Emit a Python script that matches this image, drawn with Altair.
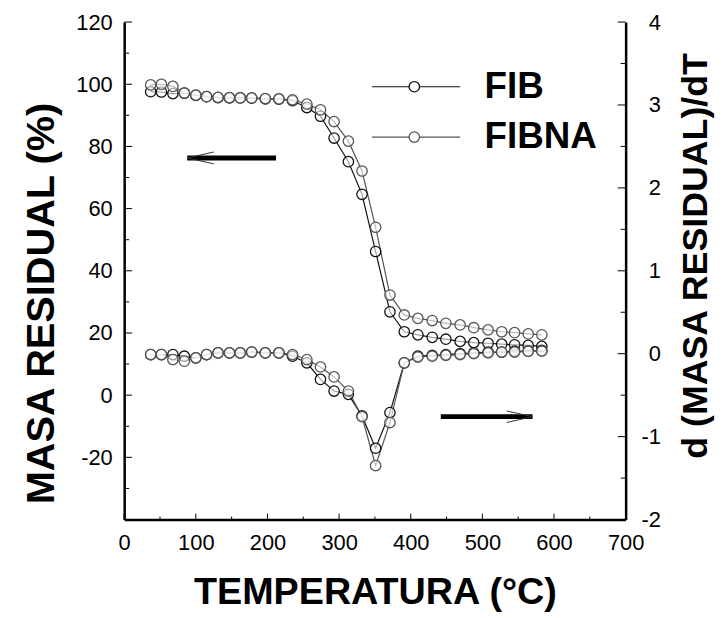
import altair as alt
import pandas as pd

# ---------------- data ----------------
temps = [37, 52, 68, 84, 100, 115, 131, 147, 162, 178, 197, 216, 235, 255, 274, 293,
         313, 332, 351, 371, 391, 410, 430, 449, 469, 488, 508, 527, 545, 564, 583]

tg_fib = [97.6, 97.5, 97.0, 97.1, 96.4, 96.0, 95.7, 95.6, 95.6, 95.5, 95.3, 95.2, 94.7,
          92.5, 89.7, 82.7, 75.1, 64.6, 46.2, 26.8, 20.4, 19.4, 18.6, 18.0, 17.3, 16.9,
          16.7, 16.4, 16.2, 16.0, 15.7]
tg_fibna = [99.8, 100.0, 99.3, 97.2, 96.5, 96.0, 95.8, 95.7, 95.6, 95.6, 95.4, 95.3, 95.0,
            93.6, 91.8, 88.0, 81.7, 72.1, 54.0, 32.2, 25.8, 24.7, 24.0, 23.1, 22.6, 21.7,
            21.0, 20.4, 20.1, 19.7, 19.4]

dtg_fib = [-0.01, -0.01, -0.01, -0.03, -0.05, -0.01, 0.01, 0.01, 0.01, 0.02, 0.01, 0.01,
           -0.03, -0.11, -0.31, -0.45, -0.49, -0.75, -1.14, -0.71, -0.11, -0.03, -0.02,
           -0.01, 0.00, 0.01, 0.02, 0.02, 0.03, 0.03, 0.04]
dtg_fibna = [-0.01, -0.01, -0.07, -0.09, -0.05, -0.01, 0.01, 0.01, 0.01, 0.02, 0.01, 0.01,
             -0.01, -0.07, -0.16, -0.28, -0.45, -0.76, -1.35, -0.83, -0.11, -0.04, -0.03,
             -0.02, -0.01, 0.00, 0.01, 0.02, 0.02, 0.03, 0.03]

series_names = ["FIB", "FIBNA"]
series_colors = ["#111111", "#555555"]

x_ticks = [0, 100, 200, 300, 400, 500, 600, 700]
x_minor = [50, 150, 250, 350, 450, 550, 650]
left_ticks = [-20, 0, 20, 40, 60, 80, 100, 120]
left_minor = [-30, -10, 10, 30, 50, 70, 90, 110]
right_ticks = [-2, -1, 0, 1, 2, 3, 4]
right_minor = [-1.5, -0.5, 0.5, 1.5, 2.5, 3.5]

# annotations (legend & arrows), in data units of the left axis
leg_line_x = [346, 469]
leg_marker_x = 405
leg_text_x = 503
leg_y = [99.2, 83.0]

arrow_left = {"x1": 88, "x2": 212, "y": 76.3, "hx": 125, "hy": [78.2, 74.4]}
arrow_right = {"x1": 442, "x2": 570, "y": -6.9, "hx": 534, "hy": [-5.1, -8.8]}

# ---------------- tables ----------------
tg = pd.DataFrame({
    "temp": temps * 2,
    "val": tg_fib + tg_fibna,
    "series": ["FIB"] * len(temps) + ["FIBNA"] * len(temps),
})
dtg = pd.DataFrame({
    "temp": temps * 2,
    "val": dtg_fib + dtg_fibna,
    "series": ["FIB"] * len(temps) + ["FIBNA"] * len(temps),
})

W, H = 505, 501
FONT = "Liberation Sans"
LBL = "'' + datum.value"

xs = alt.Scale(domain=[0, 700], nice=False, zero=False)
ys_l = alt.Scale(domain=[-40, 120], nice=False, zero=False)
ys_r = alt.Scale(domain=[-2, 4], nice=False, zero=False)
cs = alt.Scale(domain=series_names, range=series_colors)

x_axis = alt.Axis(values=x_ticks, title="TEMPERATURA (°C)", grid=False, ticks=False, tickSize=0,
                  labelFontSize=22, labelPadding=13, labelFont=FONT, labelColor="black",
                  labelFlush=False, labelExpr=LBL, domainColor="black", domainWidth=2.5,
                  titleFont=FONT, titleFontSize=38, titleFontWeight="bold", titleColor="black",
                  titleY=74, titleBaseline="middle")
left_axis = alt.Axis(values=left_ticks, title="MASA RESIDUAL (%)", grid=False, ticks=False, tickSize=0,
                     labelFontSize=22, labelPadding=12, labelFont=FONT, labelColor="black",
                     labelFlush=False, labelExpr=LBL, domainColor="black", domainWidth=2.5,
                     titleFont=FONT, titleFontSize=40, titleFontWeight="bold", titleColor="black",
                     titleX=-83, titleY=283, titleAngle=270, titleBaseline="middle")
right_axis = alt.Axis(values=right_ticks, orient="right", title="d (MASA RESIDUAL)/dT", grid=False,
                      ticks=False, tickSize=0,
                      labelFontSize=22, labelPadding=35, labelAlign="right", labelFont=FONT,
                      labelFlush=False, labelExpr=LBL, labelColor="black", domainColor="black",
                      domainWidth=2.5,
                      titleFont=FONT, titleFontSize=36, titleFontWeight="bold", titleColor="black",
                      titleX=70, titleY=235, titleAngle=270, titleBaseline="middle")

color_enc = alt.Color("series:N", scale=cs, legend=None)

# ---------------- TG (left axis) ----------------
tg_lines = alt.Chart(tg).mark_line(strokeWidth=1.2).encode(
    x=alt.X("temp:Q", scale=xs, axis=x_axis),
    y=alt.Y("val:Q", scale=ys_l, axis=left_axis),
    color=color_enc, detail="series:N")
tg_pts = alt.Chart(tg).mark_point(shape="circle", filled=False, fill="white", fillOpacity=0.6,
                                  size=110, strokeWidth=1.3).encode(
    x=alt.X("temp:Q", scale=xs, axis=None),
    y=alt.Y("val:Q", scale=ys_l, axis=None),
    color=color_enc)

leg = pd.DataFrame({"series": series_names, "y": leg_y,
                    "x1": [leg_line_x[0]] * 2, "x2": [leg_line_x[1]] * 2,
                    "xm": [leg_marker_x] * 2, "xt": [leg_text_x] * 2})
leg_lines = alt.Chart(leg).mark_rule(strokeWidth=1.2).encode(
    x=alt.X("x1:Q", scale=xs, axis=None), x2="x2:Q",
    y=alt.Y("y:Q", scale=ys_l, axis=None), color=color_enc)
leg_pts = alt.Chart(leg).mark_point(shape="circle", filled=False, fill="white", fillOpacity=1,
                                    size=110, strokeWidth=1.3).encode(
    x=alt.X("xm:Q", scale=xs, axis=None), y=alt.Y("y:Q", scale=ys_l, axis=None), color=color_enc)
leg_txt = alt.Chart(leg).mark_text(align="left", baseline="middle", font=FONT, fontSize=37,
                                   fontWeight="bold", color="black").encode(
    x=alt.X("xt:Q", scale=xs, axis=None), y=alt.Y("y:Q", scale=ys_l, axis=None), text="series:N")

arr = pd.DataFrame([arrow_left, arrow_right])
arr_shaft = alt.Chart(arr).mark_rule(strokeWidth=5, color="black").encode(
    x=alt.X("x1:Q", scale=xs, axis=None), x2="x2:Q", y=alt.Y("y:Q", scale=ys_l, axis=None))
heads = pd.DataFrame({
    "tx": [arrow_left["x1"], arrow_left["x1"], arrow_right["x2"], arrow_right["x2"]],
    "ty": [arrow_left["y"], arrow_left["y"], arrow_right["y"], arrow_right["y"]],
    "hx": [arrow_left["hx"], arrow_left["hx"], arrow_right["hx"], arrow_right["hx"]],
    "hy": arrow_left["hy"] + arrow_right["hy"],
})
arr_heads = alt.Chart(heads).mark_rule(strokeWidth=1, color="#333333").encode(
    x=alt.X("tx:Q", scale=xs, axis=None), x2="hx:Q",
    y=alt.Y("ty:Q", scale=ys_l, axis=None), y2="hy:Q")

left_tick_major = alt.Chart(pd.DataFrame({"v": left_ticks})).mark_rule(color="black", strokeWidth=1).encode(
    y=alt.Y("v:Q", scale=ys_l, axis=None), x=alt.value(0), x2=alt.value(8))
left_tick_minor = alt.Chart(pd.DataFrame({"v": left_minor})).mark_rule(color="black", strokeWidth=1).encode(
    y=alt.Y("v:Q", scale=ys_l, axis=None), x=alt.value(0), x2=alt.value(5))
bot_tick_major = alt.Chart(pd.DataFrame({"v": x_ticks})).mark_rule(color="black", strokeWidth=1).encode(
    x=alt.X("v:Q", scale=xs, axis=None), y=alt.value(H), y2=alt.value(H - 6))
bot_tick_minor = alt.Chart(pd.DataFrame({"v": x_minor})).mark_rule(color="black", strokeWidth=1).encode(
    x=alt.X("v:Q", scale=xs, axis=None), y=alt.value(H), y2=alt.value(H - 3))

# ---------------- DTG (right axis) ----------------
dtg_lines = alt.Chart(dtg).mark_line(strokeWidth=1.2).encode(
    x=alt.X("temp:Q", scale=xs, axis=None),
    y=alt.Y("val:Q", scale=ys_r, axis=right_axis),
    color=color_enc, detail="series:N")
dtg_pts = alt.Chart(dtg).mark_point(shape="circle", filled=False, fill="white", fillOpacity=0.6,
                                    size=110, strokeWidth=1.3).encode(
    x=alt.X("temp:Q", scale=xs, axis=None),
    y=alt.Y("val:Q", scale=ys_r, axis=None),
    color=color_enc)
right_tick_major = alt.Chart(pd.DataFrame({"v": right_ticks})).mark_rule(color="black", strokeWidth=1).encode(
    y=alt.Y("v:Q", scale=ys_r, axis=None), x=alt.value(W), x2=alt.value(W - 8))
right_tick_minor = alt.Chart(pd.DataFrame({"v": right_minor})).mark_rule(color="black", strokeWidth=1).encode(
    y=alt.Y("v:Q", scale=ys_r, axis=None), x=alt.value(W), x2=alt.value(W - 5))

chart = alt.layer(
    tg_lines, dtg_lines, tg_pts, dtg_pts, leg_lines, leg_pts, leg_txt, arr_shaft, arr_heads,
    left_tick_major, left_tick_minor, bot_tick_major, bot_tick_minor,
    right_tick_major, right_tick_minor,
).resolve_scale(x="independent", y="independent").properties(
    width=W, height=H,
    autosize=alt.AutoSizeParams(type="none"),
    padding={"left": 117, "top": 12, "right": 90, "bottom": 97},
    background="white",
).configure_view(stroke="transparent")

chart.save("out.html", embed_options={"renderer": "svg", "actions": False})
